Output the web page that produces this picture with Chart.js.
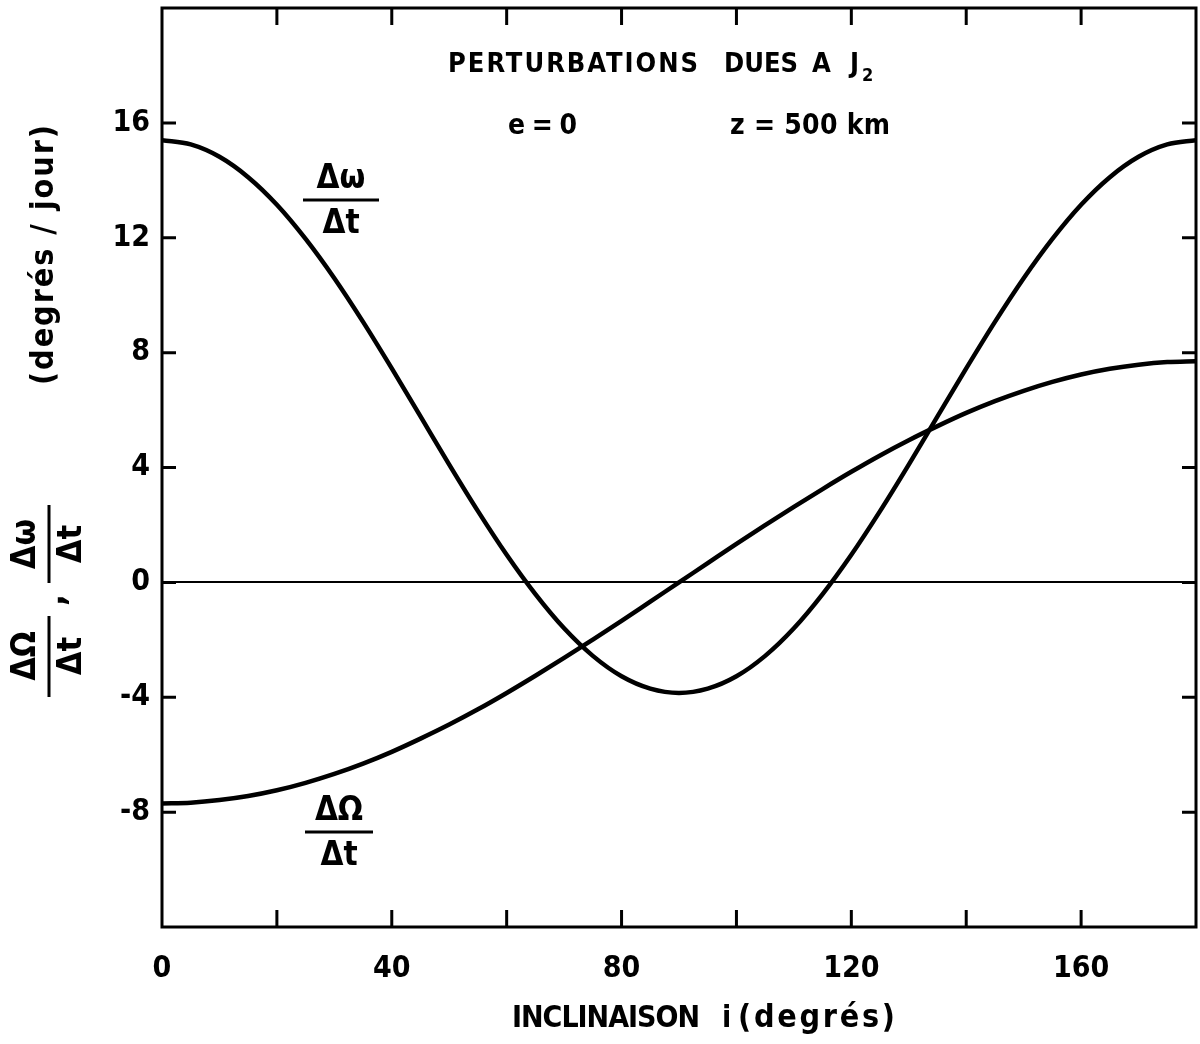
<!DOCTYPE html>
<html>
<head>
<meta charset="utf-8">
<script src="https://cdn.jsdelivr.net/npm/chart.js@4.4.0/dist/chart.umd.min.js"></script>
<style>
  html, body { margin: 0; padding: 0; background: #fff; }
  #wrap { width: 1200px; height: 1044px; }
</style>
</head>
<body>
<div id="wrap"><canvas id="perturbations-chart" width="1200" height="1044"></canvas></div>
<script>
// Perturbations dues a J2 -- e = 0, z = 500 km

// inclinaison i (degres)
const inclinaison = [
  0, 5, 10, 15, 20, 25, 30, 35, 40, 45, 50, 55, 60, 65, 70, 75, 80, 85, 90,
  95, 100, 105, 110, 115, 120, 125, 130, 135, 140, 145, 150, 155, 160, 165, 170, 175, 180
];

// d(omega)/dt, degres / jour
const perigeeRate = [
  15.40, 15.25, 14.82, 14.11, 13.15, 11.96, 10.59, 9.07, 7.45, 5.78, 4.10, 2.48, 0.96, -0.41, -1.60, -2.56, -3.27, -3.70, -3.85,
  -3.70, -3.27, -2.56, -1.60, -0.41, 0.96, 2.48, 4.10, 5.78, 7.45, 9.07, 10.59, 11.96, 13.15, 14.11, 14.82, 15.25, 15.40
];

// d(Omega)/dt, degres / jour
const nodeRate = [
  -7.70, -7.67, -7.58, -7.44, -7.24, -6.98, -6.67, -6.31, -5.90, -5.44, -4.95, -4.42, -3.85, -3.25, -2.63, -1.99, -1.34, -0.67, 0.00,
  0.67, 1.34, 1.99, 2.63, 3.25, 3.85, 4.42, 4.95, 5.44, 5.90, 6.31, 6.67, 6.98, 7.24, 7.44, 7.58, 7.67, 7.70
];

const xLabels = [0, 40, 80, 120, 160];
const yLabels = [16, 12, 8, 4, 0, -4, -8];

const FONT = '"DejaVu Sans Condensed", "Liberation Sans Narrow", "DejaVu Sans", sans-serif';
const INK = '#000';

function toPoints(xs, ys) {
  return xs.map((x, i) => ({ x: x, y: ys[i] }));
}

// draw text left-aligned from x0, spaced out so it ends at x1
function spread(ctx, text, x0, x1, y) {
  ctx.letterSpacing = '0px';
  const w = ctx.measureText(text).width;
  const ls = (x1 - x0 - w) / Math.max(text.length - 1, 1);
  ctx.letterSpacing = ls.toFixed(2) + 'px';
  ctx.textAlign = 'left';
  ctx.fillText(text, x0, y);
  ctx.letterSpacing = '0px';
}

// frame + inward ticks on all four sides
const framePlugin = {
  id: 'frame',
  afterDatasetsDraw(chart) {
    const ctx = chart.ctx;
    const { left, right, top, bottom } = chart.chartArea;
    const xs = chart.scales.x;
    const ys = chart.scales.y;
    ctx.save();
    ctx.strokeStyle = INK;
    ctx.lineWidth = 3;
    ctx.strokeRect(left, top, right - left, bottom - top);

    ctx.beginPath();
    xs.ticks.forEach(t => {
      if (t.value <= xs.min || t.value >= xs.max) return;
      const px = xs.getPixelForValue(t.value);
      ctx.moveTo(px, bottom); ctx.lineTo(px, bottom - 17);
      ctx.moveTo(px, top); ctx.lineTo(px, top + 17);
    });
    ys.ticks.forEach(t => {
      if (t.value <= ys.min || t.value >= ys.max) return;
      const py = ys.getPixelForValue(t.value);
      ctx.moveTo(left, py); ctx.lineTo(left + 14, py);
      ctx.moveTo(right, py); ctx.lineTo(right - 14, py);
    });
    ctx.stroke();
    ctx.restore();
  },
  afterDraw(chart) {
    const ctx = chart.ctx;
    ctx.save();
    ctx.fillStyle = INK;
    ctx.strokeStyle = INK;
    ctx.textBaseline = 'middle';

    // title block
    ctx.font = 'bold 27px ' + FONT;
    spread(ctx, 'PERTURBATIONS', 448, 698, 65);
    ctx.textAlign = 'left';
    ctx.fillText('DUES', 724, 65);
    ctx.fillText('A', 812, 65);
    ctx.fillText('J', 850, 65);
    ctx.font = 'bold 18px ' + FONT;
    ctx.fillText('2', 862, 76);
    ctx.font = 'bold 28px ' + FONT;
    spread(ctx, 'e = 0', 508, 577, 127);
    spread(ctx, 'z = 500 km', 730, 890, 127);

    // curve labels (fractions)
    const fraction = (cx, cy, num, den, w) => {
      ctx.textAlign = 'center';
      ctx.font = 'bold 33px ' + FONT;
      ctx.fillText(num, cx, cy - 21);
      ctx.fillText(den, cx, cy + 24);
      ctx.lineWidth = 3;
      ctx.beginPath();
      ctx.moveTo(cx - w / 2, cy); ctx.lineTo(cx + w / 2, cy);
      ctx.stroke();
    };
    fraction(341, 200, 'Δω', 'Δt', 76);
    fraction(339, 832, 'ΔΩ', 'Δt', 68);

    // x axis title
    ctx.font = 'bold 30px ' + FONT;
    spread(ctx, 'INCLINAISON', 512, 700, 1019);
    ctx.textAlign = 'left';
    ctx.fillText('i', 722, 1019);
    ctx.font = 'bold 32px ' + FONT;
    spread(ctx, '(degrés)', 738, 895, 1019);

    // y axis title, rotated
    ctx.translate(45, 0);
    ctx.rotate(-Math.PI / 2);
    ctx.font = 'bold 32px ' + FONT;
    spread(ctx, '(degrés / jour)', -385, -125, 0);
    ctx.textAlign = 'center';
    ctx.font = 'bold 34px ' + FONT;
    ctx.fillText('ΔΩ', -656, -19);
    ctx.fillText('Δt', -656, 27);
    ctx.fillText('Δω', -544, -19);
    ctx.fillText('Δt', -544, 27);
    ctx.fillText(',', -600, 10);
    ctx.lineWidth = 3;
    ctx.beginPath();
    ctx.moveTo(-697, 4); ctx.lineTo(-616, 4);
    ctx.moveTo(-583, 4); ctx.lineTo(-505, 4);
    ctx.stroke();
    ctx.restore();
  }
};

new Chart(document.getElementById('perturbations-chart').getContext('2d'), {
  type: 'line',
  data: {
    datasets: [
      {
        label: 'Δω/Δt',
        data: toPoints(inclinaison, perigeeRate),
        borderColor: INK,
        borderWidth: 4.5,
        pointRadius: 0,
        cubicInterpolationMode: 'monotone',
        fill: false
      },
      {
        label: 'ΔΩ/Δt',
        data: toPoints(inclinaison, nodeRate),
        borderColor: INK,
        borderWidth: 4.5,
        pointRadius: 0,
        cubicInterpolationMode: 'monotone',
        fill: false
      }
    ]
  },
  options: {
    responsive: false,
    animation: false,
    devicePixelRatio: 1,
    layout: { padding: { top: 8, right: 4, bottom: 0, left: 0 } },
    plugins: {
      legend: { display: false },
      tooltip: { enabled: false }
    },
    scales: {
      x: {
        type: 'linear',
        min: 0,
        max: 180,
        afterFit(scale) {
          scale.height = 117;
          scale.paddingLeft = 0;
          scale.paddingRight = 0;
        },
        border: { display: false },
        grid: { display: false, drawTicks: false },
        ticks: {
          stepSize: 20,
          padding: 24,
          color: INK,
          font: { family: FONT, size: 30, weight: 'bold' },
          maxRotation: 0,
          autoSkip: false,
          callback: v => (xLabels.includes(v) ? String(v) : '')
        }
      },
      y: {
        type: 'linear',
        min: -12,
        max: 20,
        afterFit(scale) {
          scale.width = 162;
          scale.paddingTop = 0;
          scale.paddingBottom = 0;
        },
        border: { display: false },
        grid: {
          drawTicks: false,
          color: c => (c.tick && c.tick.value === 0 ? INK : 'rgba(0,0,0,0)'),
          lineWidth: c => (c.tick && c.tick.value === 0 ? 2 : 0)
        },
        ticks: {
          stepSize: 4,
          padding: 12,
          color: INK,
          font: { family: FONT, size: 30, weight: 'bold' },
          autoSkip: false,
          callback: v => (yLabels.includes(v) ? String(v) : '')
        }
      }
    }
  },
  plugins: [framePlugin]
});
</script>
</body>
</html>
